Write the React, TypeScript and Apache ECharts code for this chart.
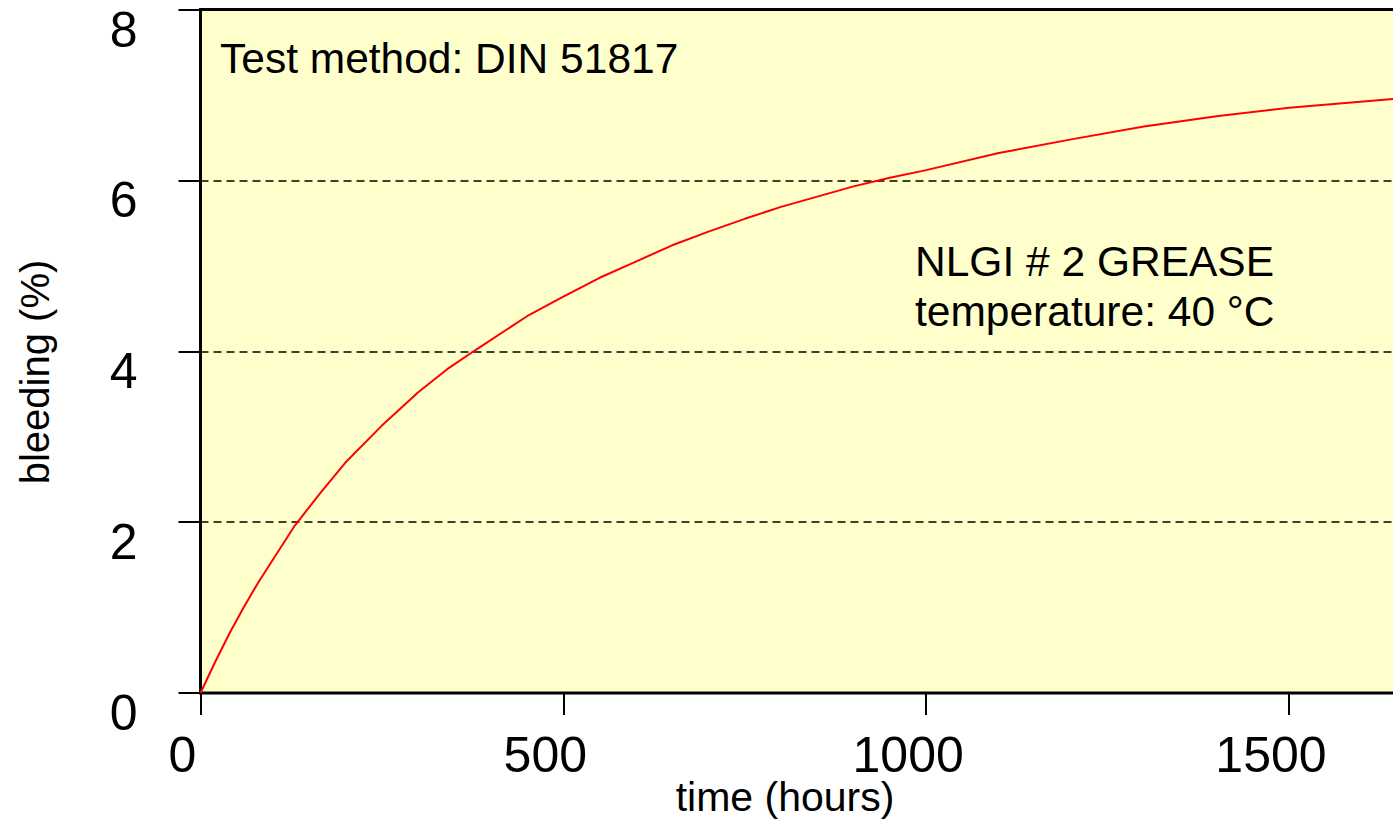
import React, { useEffect, useRef } from "react";
import * as echarts from "echarts";

const hours = [0, 20, 40, 60, 80, 105, 130, 165, 200, 250, 300, 340, 380, 450, 500, 550, 600, 650, 700, 750, 800, 850, 900, 950, 1000, 1100, 1200, 1300, 1400, 1500, 1653];
const bleeding = [0, 0.36, 0.7, 1.01, 1.3, 1.63, 1.96, 2.34, 2.7, 3.13, 3.52, 3.79, 4.02, 4.41, 4.64, 4.86, 5.05, 5.24, 5.4, 5.55, 5.69, 5.81, 5.93, 6.03, 6.12, 6.32, 6.48, 6.63, 6.75, 6.85, 6.96];
const yTicks = [0, 2, 4, 6, 8];
const xTicks = [0, 500, 1000, 1500];
const xTitle = "time (hours)";
const yTitle = "bleeding (%)";
const noteMethod = "Test method: DIN 51817";
const noteGrease = "NLGI # 2 GREASE";
const noteTemp = "temperature: 40 °C";

const FONT = "'Liberation Sans', Arial, sans-serif";

export default function App() {
  const ref = useRef<HTMLDivElement>(null);
  useEffect(() => {
    if (!ref.current) return;
    const chart = echarts.init(ref.current, undefined, { renderer: "svg" });
    const data = hours.map((h, i) => [h, bleeding[i]]);
    chart.setOption({
      animation: false,
      grid: {
        show: true,
        left: 200.5,
        right: 20,
        top: 9.5,
        bottom: 128,
        backgroundColor: "#ffffcc",
        borderColor: "#000",
        borderWidth: 3,
        containLabel: false,
        outerBoundsMode: "none",
      },
      xAxis: {
        type: "value",
        min: xTicks[0],
        max: 1653,
        interval: 500,
        axisLine: { show: false },
        axisTick: { show: true, inside: false, length: 22, lineStyle: { color: "#000", width: 2 } },
        splitLine: { show: false },
        axisLabel: {
          show: true,
          showMaxLabel: false,
          margin: 37,
          fontSize: 50,
          color: "#000",
          fontFamily: FONT,
          padding: [0, 36, 0, 0],
          formatter: (v: number) => String(v),
        },
      },
      yAxis: {
        type: "value",
        min: yTicks[0],
        max: yTicks[yTicks.length - 1],
        interval: 2,
        axisLine: { show: false },
        axisTick: { show: true, inside: false, length: 22, lineStyle: { color: "#000", width: 2 } },
        splitLine: { show: true, lineStyle: { color: "#000", width: 1.5, type: [8, 5] } },
        axisLabel: {
          show: true,
          margin: 63,
          fontSize: 50,
          lineHeight: 40,
          verticalAlign: "top",
          color: "#000",
          fontFamily: FONT,
          formatter: (v: number) => String(v),
        },
      },
      series: [
        {
          type: "line",
          data,
          showSymbol: false,
          smooth: false,
          lineStyle: { color: "#ff0000", width: 2 },
          itemStyle: { color: "#ff0000" },
          silent: true,
        },
      ],
      graphic: [
        {
          type: "text",
          x: 220,
          y: 58,
          style: { text: noteMethod, fontSize: 42.5, fontFamily: FONT, fill: "#000", textAlign: "left", textVerticalAlign: "middle" },
        },
        {
          type: "text",
          x: 915,
          y: 261,
          style: { text: noteGrease, fontSize: 42.5, fontFamily: FONT, fill: "#000", textAlign: "left", textVerticalAlign: "middle" },
        },
        {
          type: "text",
          x: 915,
          y: 311,
          style: { text: noteTemp, fontSize: 42.5, fontFamily: FONT, fill: "#000", textAlign: "left", textVerticalAlign: "middle" },
        },
        {
          type: "text",
          x: 785,
          y: 797,
          style: { text: xTitle, fontSize: 41, fontFamily: FONT, fill: "#000", textAlign: "center", textVerticalAlign: "middle" },
        },
        {
          type: "text",
          x: 35,
          y: 372,
          rotation: Math.PI / 2,
          style: { text: yTitle, fontSize: 40, fontFamily: FONT, fill: "#000", textAlign: "center", textVerticalAlign: "middle" },
        },
      ],
    });
    return () => chart.dispose();
  }, []);
  return (
    <div style={{ position: "fixed", left: 0, top: 0, width: 1393, height: 821, overflow: "hidden", background: "#fff" }}>
      <div ref={ref} style={{ width: 1420, height: 821 }} />
    </div>
  );
}
